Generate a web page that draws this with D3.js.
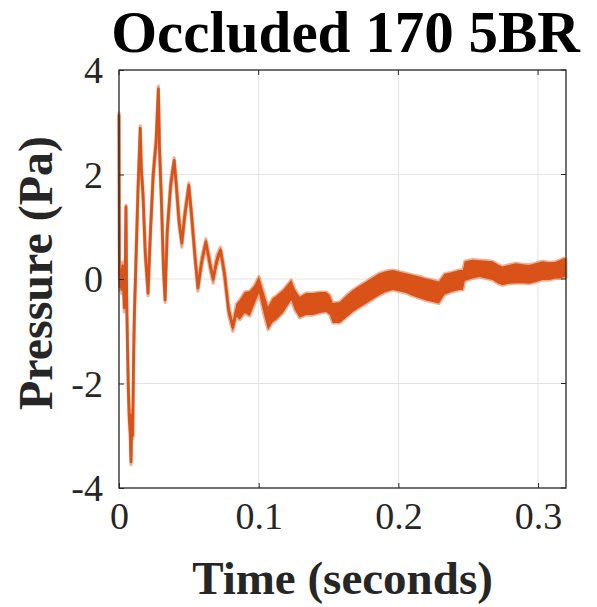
<!DOCTYPE html>
<html><head><meta charset="utf-8">
<script src="https://cdn.jsdelivr.net/npm/d3@7"></script>
<style>
html,body{margin:0;padding:0;background:#fff;}
svg text{font-family:"Liberation Serif","Times New Roman",serif;}
</style></head>
<body><svg id="c" width="597" height="607"></svg>
<script>
// ---- data ----
const timeS = [
  0.0000,0.0003,0.0008,0.0014,0.0020,0.0026,0.0032,0.0038,0.0044,0.0050,
  0.0055,0.0061,0.0067,0.0074,0.0080,0.0086,0.0092,0.0098,0.0104,0.0110,
  0.0122,0.0136,0.0152,0.0160,0.0172,0.0188,0.0208,0.0225,0.0245,0.0265,
  0.0282,0.0290,0.0305,0.0318,0.0330,0.0345,0.0370,0.0395,0.0410,0.0430,
  0.0450,0.0470,0.0500,0.0520,0.0545,0.0565,0.0590,0.0622,0.0650,0.0674,
  0.0700,0.0727,0.0755,0.0785,0.0815,0.0840,0.0864,0.0900,0.0936,0.0970,
  0.1002,0.1035,0.1067,0.1100,0.1126,0.1174,0.1233,0.1260,0.1293,0.1340,
  0.1388,0.1440,0.1483,0.1510,0.1530,0.1580,0.1630,0.1674,0.1720,0.1770,
  0.1815,0.1864,0.1910,0.1960,0.2010,0.2055,0.2100,0.2150,0.2200,0.2245,
  0.2290,0.2330,0.2380,0.2436,0.2462,0.2475,0.2530,0.2580,0.2630,0.2674,
  0.2710,0.2745,0.2790,0.2840,0.2890,0.2936,0.2980,0.3030,0.3080,0.3126,
  0.3160,0.3186,0.3200];
const pressurePa = [
  3.15,0.05,-0.15,0.15,-0.20,0.25,-0.10,-0.55,0.00,1.38,
  -0.40,-1.30,-2.10,-2.70,-2.90,-3.50,-2.60,-3.00,-1.60,-0.70,
  0.40,1.70,2.88,2.10,1.60,0.50,-0.27,0.90,2.00,2.60,
  3.64,2.50,1.40,0.20,-0.40,0.90,1.80,2.27,1.80,1.10,
  0.69,1.20,1.79,1.20,0.40,-0.17,0.30,0.71,0.30,0.00,
  0.35,0.55,0.10,-0.60,-0.92,-0.60,-0.59,-0.45,-0.47,-0.30,
  -0.11,-0.45,-0.75,-0.60,-0.55,-0.43,-0.21,-0.40,-0.54,-0.48,
  -0.48,-0.45,-0.44,-0.50,-0.65,-0.64,-0.52,-0.42,-0.34,-0.26,
  -0.18,-0.10,-0.05,-0.02,-0.05,-0.08,-0.12,-0.16,-0.20,-0.23,
  -0.26,-0.10,-0.06,-0.02,-0.02,0.15,0.19,0.20,0.18,0.16,
  0.10,0.06,0.09,0.11,0.10,0.09,0.12,0.16,0.15,0.17,
  0.19,0.22,0.20];
const noiseBandPa = [
  0.03,0.05,0.08,0.08,0.08,0.08,0.08,0.08,0.08,0.03,
  0.05,0.08,0.10,0.10,0.10,0.05,0.10,0.05,0.10,0.10,
  0.10,0.10,0.05,0.10,0.10,0.10,0.05,0.10,0.10,0.10,
  0.05,0.10,0.10,0.10,0.05,0.10,0.10,0.05,0.10,0.10,
  0.08,0.10,0.05,0.10,0.10,0.06,0.10,0.06,0.10,0.08,
  0.10,0.06,0.10,0.10,0.08,0.12,0.19,0.20,0.24,0.18,
  0.16,0.20,0.22,0.23,0.23,0.22,0.19,0.20,0.20,0.21,
  0.21,0.20,0.19,0.19,0.19,0.20,0.21,0.21,0.21,0.21,
  0.21,0.21,0.20,0.19,0.19,0.19,0.20,0.21,0.21,0.21,
  0.21,0.20,0.19,0.19,0.19,0.19,0.18,0.16,0.17,0.18,
  0.18,0.18,0.18,0.19,0.18,0.18,0.18,0.18,0.17,0.16,
  0.18,0.18,0.18];
const xTicks = [0, 0.1, 0.2, 0.3];
const yTicks = [-4, -2, 0, 2, 4];
const titleText = "Occluded 170 5BR";
const xLabel = "Time (seconds)";
const yLabel = "Pressure (Pa)";

const svg = d3.select("#c");
const L = 119, R = 566, T = 70, B = 488;
const x = d3.scaleLinear().domain([0, 0.32]).range([L, R]);
const y = d3.scaleLinear().domain([-4, 4]).range([B, T]);
const color = "#D95319";
const axisCol = "#262626";

// grid
svg.append("g").selectAll("line").data(xTicks.filter(d=>d>0)).join("line")
  .attr("x1", d=>x(d)).attr("x2", d=>x(d)).attr("y1", T).attr("y2", B)
  .attr("stroke", "#e3e3e3").attr("stroke-width", 1);
svg.append("g").selectAll("line").data(yTicks.filter(d=>d>-4 && d<4)).join("line")
  .attr("x1", L).attr("x2", R).attr("y1", d=>y(d)).attr("y2", d=>y(d))
  .attr("stroke", "#e3e3e3").attr("stroke-width", 1);

const n = Math.min(timeS.length, pressurePa.length, noiseBandPa.length);
const data = d3.range(n).map(i=>({t: timeS[i], p: pressurePa[i], s: noiseBandPa[i]}));
const area = d3.area().x(d=>x(d.t)).y0(d=>y(d.p - d.s)).y1(d=>y(d.p + d.s));
// soft fuzzy edge of the noise band
svg.append("path").datum(data).attr("d", area).attr("fill", color)
  .attr("stroke", color).attr("stroke-opacity", 0.45).attr("stroke-width", 3.2).attr("stroke-linejoin","round");
const line = d3.line().x(d=>x(d.t)).y(d=>y(d.p));
svg.append("path").datum(data).attr("d", line).attr("fill", "none")
  .attr("stroke", color).attr("stroke-width", 2.8).attr("stroke-linejoin","round");

// axes
const xAxis = d3.axisBottom(x).tickValues(xTicks).tickSize(-5).tickPadding(14).tickFormat(d=>d===0?"0":d3.format(".1f")(d));
const gx = svg.append("g").attr("transform", `translate(0,${B})`).call(xAxis);
const yAxis = d3.axisLeft(y).tickValues(yTicks).tickSize(-5).tickPadding(16).tickFormat(d=>String(d));
const gy = svg.append("g").attr("transform", `translate(${L},0)`).call(yAxis);
[gx, gy].forEach(g=>{
  g.select(".domain").remove();
  g.selectAll(".tick line").attr("stroke", axisCol).attr("stroke-width", 1);
  g.selectAll("text").attr("fill", "#262626").style("font-size", "38px").style("font-family", '"Liberation Serif", serif');
});
gx.selectAll("text").attr("dy", "0.71em");
gy.selectAll("text").attr("dy", "0.34em");
// top/right ticks
svg.append("g").selectAll("line").data(xTicks).join("line")
  .attr("x1", d=>x(d)).attr("x2", d=>x(d)).attr("y1", T).attr("y2", T+5).attr("stroke", axisCol);
svg.append("g").selectAll("line").data(yTicks).join("line")
  .attr("x1", R).attr("x2", R-5).attr("y1", d=>y(d)).attr("y2", d=>y(d)).attr("stroke", axisCol);
// box
svg.append("rect").attr("x", L).attr("y", T).attr("width", R-L).attr("height", B-T)
  .attr("fill", "none").attr("stroke", axisCol).attr("stroke-width", 1.3);

// texts
svg.append("text").attr("x", (L+R)/2 + 3).attr("y", 52).attr("text-anchor", "middle")
  .style("font-size", "59px").style("font-weight", "bold").attr("fill", "#000").text(titleText);
svg.append("text").attr("x", (L+R)/2).attr("y", 594).attr("text-anchor", "middle")
  .style("font-size", "47px").style("font-weight", "bold").attr("fill", "#262626").text(xLabel);
svg.append("text").attr("transform", `translate(52,${(T+B)/2 - 6}) rotate(-90)`).attr("text-anchor", "middle")
  .style("font-size", "48px").style("font-weight", "bold").attr("fill", "#262626").text(yLabel);
</script></body></html>
